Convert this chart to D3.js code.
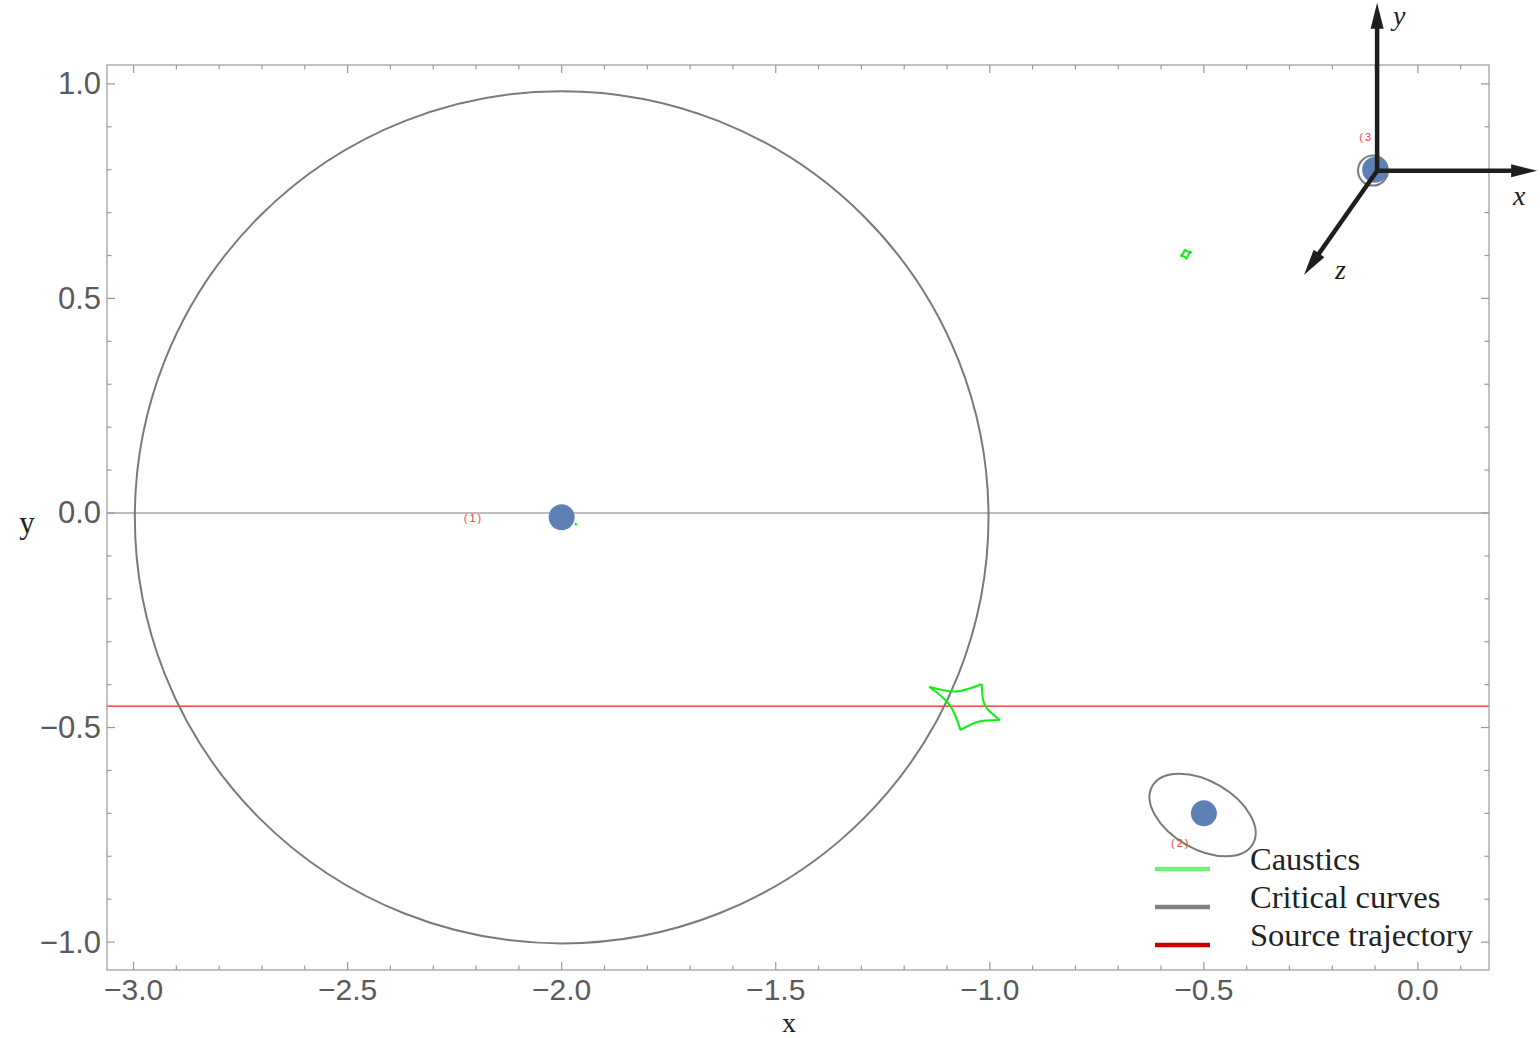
<!DOCTYPE html>
<html>
<head>
<meta charset="utf-8">
<script src="https://cdn.jsdelivr.net/npm/d3@7"></script>
<style>
  body { margin: 0; background: #fff; }
  svg { display: block; }
</style>
</head>
<body>
<svg id="chart"></svg>
<script>
// ticks
var xTicks = [-3.0, -2.5, -2.0, -1.5, -1.0, -0.5, 0.0];
var yTicks = [-1.0, -0.5, 0.0, 0.5, 1.0];

// lenses
var lensX = [-2.0, -0.5, -0.1];
var lensY = [-0.01, -0.7, 0.8];
var lensNames = ["(1)", "(2)", "(3"];
var lensLabelX = [-2.206, -0.554, -0.121];
var lensLabelY = [-0.012, -0.769, 0.876];

// critical curves (ellipses: centre, semi axes, tilt)
var critCx = [-2.0, -0.503, -0.105];
var critCy = [-0.01, -0.704, 0.798];
var critA = [0.997, 0.1355, 0.035];
var critB = [0.993, 0.079, 0.035];
var critTilt = [0, 30, 0];

// caustics: cusp, edge midpoint, cusp, ...
var causticBig = [[-1.1418, -0.405], [-1.0785, -0.4160], [-1.0187, -0.3986], [-1.0117, -0.4476],
                  [-0.9766, -0.4825], [-1.0273, -0.4864], [-1.0685, -0.506], [-1.0935, -0.4476]];
var causticSmall = [[-0.5545, 0.599], [-0.548, 0.606], [-0.5444, 0.6147], [-0.5382, 0.6092],
                    [-0.5288, 0.609], [-0.5368, 0.601], [-0.5404, 0.5913], [-0.5458, 0.5975]];
var causticTiny = [[-1.969, -0.024], [-1.967, -0.025], [-1.965, -0.025], [-1.966, -0.027],
                   [-1.966, -0.029], [-1.967, -0.027], [-1.969, -0.027], [-1.968, -0.025]];

// source trajectory
var sourceY = -0.45;

// legend
var legendNames = ["Caustics", "Critical curves", "Source trajectory"];
var legendColors = ["#77ee77", "#808080", "#cc0000"];

var W = 1540, H = 1038;
var svg = d3.select("#chart").attr("width", W).attr("height", H);

var fLeft = 107, fRight = 1489, fTop = 65, fBottom = 970;
var x = d3.scaleLinear().domain([-3.062, 0.166]).range([fLeft, fRight]);
var y = d3.scaleLinear().domain([-1.065, 1.044]).range([fBottom, fTop]);

var plot = svg.append("g");

// clip to frame
svg.append("clipPath").attr("id", "clip")
   .append("rect").attr("x", fLeft).attr("y", fTop)
   .attr("width", fRight - fLeft).attr("height", fBottom - fTop);

var inner = plot.append("g").attr("clip-path", "url(#clip)");

// y = 0 axis line
inner.append("line")
     .attr("x1", fLeft).attr("x2", fRight)
     .attr("y1", y(0)).attr("y2", y(0))
     .attr("stroke", "#7a7a7a").attr("stroke-width", 1.2);

// source trajectory
inner.append("line")
     .attr("x1", fLeft).attr("x2", fRight)
     .attr("y1", y(sourceY)).attr("y2", y(sourceY))
     .attr("stroke", "#ff1a1a").attr("stroke-width", 1.2);

// critical curves
critCx.forEach(function(cx, i) {
    var px = x(cx), py = y(critCy[i]);
    inner.append("ellipse")
         .attr("cx", px).attr("cy", py)
         .attr("rx", x(cx + critA[i]) - px)
         .attr("ry", y(critCy[i] - critB[i]) - py)
         .attr("transform", "rotate(" + critTilt[i] + "," + px + "," + py + ")")
         .attr("fill", "none")
         .attr("stroke", "#7a7a7a")
         .attr("stroke-width", 2);
});

// caustics
var edgeLine = d3.line().x(function(d) { return x(d[0]); })
                        .y(function(d) { return y(d[1]); })
                        .curve(d3.curveNatural);
function drawCaustic(pts, w) {
    var n = pts.length, d = "";
    for (var i = 0; i < n; i += 2) {
        d += edgeLine([pts[i], pts[i + 1], pts[(i + 2) % n]]);
    }
    inner.append("path").attr("d", d)
         .attr("fill", "none")
         .attr("stroke", "#11ee11")
         .attr("stroke-width", w)
         .attr("stroke-linejoin", "miter");
}
drawCaustic(causticBig, 2);
drawCaustic(causticSmall, 2);
drawCaustic(causticTiny, 1.5);

// lens points
inner.selectAll("circle.lens")
     .data(lensX)
     .enter().append("circle")
     .attr("class", "lens")
     .attr("cx", function(d) { return x(d); })
     .attr("cy", function(d, i) { return y(lensY[i]); })
     .attr("r", 13)
     .attr("fill", "#5E81B5");

// lens labels
inner.selectAll("text.lname")
     .data(lensNames)
     .enter().append("text")
     .attr("class", "lname")
     .attr("x", function(d, i) { return x(lensLabelX[i]); })
     .attr("y", function(d, i) { return y(lensLabelY[i]); })
     .attr("text-anchor", "middle")
     .attr("dominant-baseline", "central")
     .style("font-family", "Liberation Sans, Arial, sans-serif")
     .style("font-size", "11px")
     .style("letter-spacing", "2px")
     .attr("fill", "#ff3b3b")
     .text(function(d) { return d; });

// frame
plot.append("rect")
    .attr("x", fLeft).attr("y", fTop)
    .attr("width", fRight - fLeft).attr("height", fBottom - fTop)
    .attr("fill", "none").attr("stroke", "#999").attr("stroke-width", 1.2);

// ticks
var xMinor = d3.range(-30, 2).map(function(k) { return k / 10; });
var yMinor = d3.range(-10, 11).map(function(k) { return k / 10; });
function isMajor(v) { return Math.abs(v * 2 - Math.round(v * 2)) < 1e-6; }

var tk = plot.append("g").attr("stroke", "#999").attr("stroke-width", 1.2);
xMinor.forEach(function(v) {
    var len = isMajor(v) ? 8 : 4.5;
    tk.append("line").attr("x1", x(v)).attr("x2", x(v)).attr("y1", fBottom).attr("y2", fBottom - len);
    tk.append("line").attr("x1", x(v)).attr("x2", x(v)).attr("y1", fTop).attr("y2", fTop + len);
});
yMinor.forEach(function(v) {
    var len = isMajor(v) ? 8 : 4.5;
    tk.append("line").attr("y1", y(v)).attr("y2", y(v)).attr("x1", fLeft).attr("x2", fLeft + len);
    tk.append("line").attr("y1", y(v)).attr("y2", y(v)).attr("x1", fRight).attr("x2", fRight - len);
});

var fmt = function(v) { return d3.format(".1f")(v).replace("-", "\u2212"); };

plot.selectAll("text.xt")
    .data(xTicks).enter().append("text")
    .attr("class", "xt")
    .attr("x", function(d) { return x(d); })
    .attr("y", 1000)
    .attr("text-anchor", "middle")
    .style("font-family", "Liberation Sans, Arial, sans-serif")
    .style("font-size", "30px")
    .attr("fill", "#5a5a5a")
    .text(fmt);

plot.selectAll("text.yt")
    .data(yTicks).enter().append("text")
    .attr("class", "yt")
    .attr("x", 101)
    .attr("y", function(d) { return y(d); })
    .attr("text-anchor", "end")
    .attr("dominant-baseline", "central")
    .style("font-family", "Liberation Sans, Arial, sans-serif")
    .style("font-size", "31px")
    .attr("fill", "#5a5a5a")
    .text(fmt);

// axis labels
plot.append("text").attr("x", 789).attr("y", 1032)
    .attr("text-anchor", "middle")
    .style("font-family", "Liberation Serif, Times New Roman, serif")
    .style("font-size", "28px").attr("fill", "#222").text("x");
plot.append("text").attr("x", 27).attr("y", 533)
    .attr("text-anchor", "middle")
    .style("font-family", "Liberation Serif, Times New Roman, serif")
    .style("font-size", "31px").attr("fill", "#222").text("y");

// legend
var lg = svg.append("g");
legendNames.forEach(function(name, i) {
    var ly = 869 + i * 38;
    lg.append("line").attr("x1", 1155).attr("x2", 1210)
      .attr("y1", ly).attr("y2", ly)
      .attr("stroke", legendColors[i]).attr("stroke-width", 4.5);
    lg.append("text").attr("x", 1250).attr("y", ly + 1)
      .style("font-family", "Liberation Serif, Times New Roman, serif")
      .style("font-size", "32.5px")
      .attr("fill", "#222")
      .text(name);
});

// 3D axes glyph anchored at lens (3)
var ox = x(lensX[2]) + 2, oy = y(lensY[2]) + 1;
var gl = svg.append("g").attr("fill", "#1e1e1e").attr("stroke", "#1e1e1e");
function arrow(dx, dy, label, lx, ly) {
    var L = Math.sqrt(dx * dx + dy * dy), ux = dx / L, uy = dy / L;
    var hl = 26, hw = 6.5;
    var bx = ox + ux * (L - hl), by = oy + uy * (L - hl);
    gl.append("line").attr("x1", ox).attr("y1", oy).attr("x2", bx + ux * 2).attr("y2", by + uy * 2)
      .attr("stroke-width", 4.5);
    gl.append("polygon")
      .attr("points", [[ox + dx, oy + dy], [bx - uy * hw, by + ux * hw], [bx + uy * hw, by - ux * hw]].join(" "))
      .attr("stroke", "none");
    gl.append("text").attr("x", ox + lx).attr("y", oy + ly)
      .attr("stroke", "none")
      .style("font-family", "Liberation Serif, Times New Roman, serif")
      .style("font-style", "italic")
      .style("font-size", "28px")
      .text(label);
}
arrow(0, -168, "y", 16, -146);
arrow(160, 0, "x", 136, 34);
arrow(-73, 104, "z", -42, 108);
</script>
</body>
</html>
